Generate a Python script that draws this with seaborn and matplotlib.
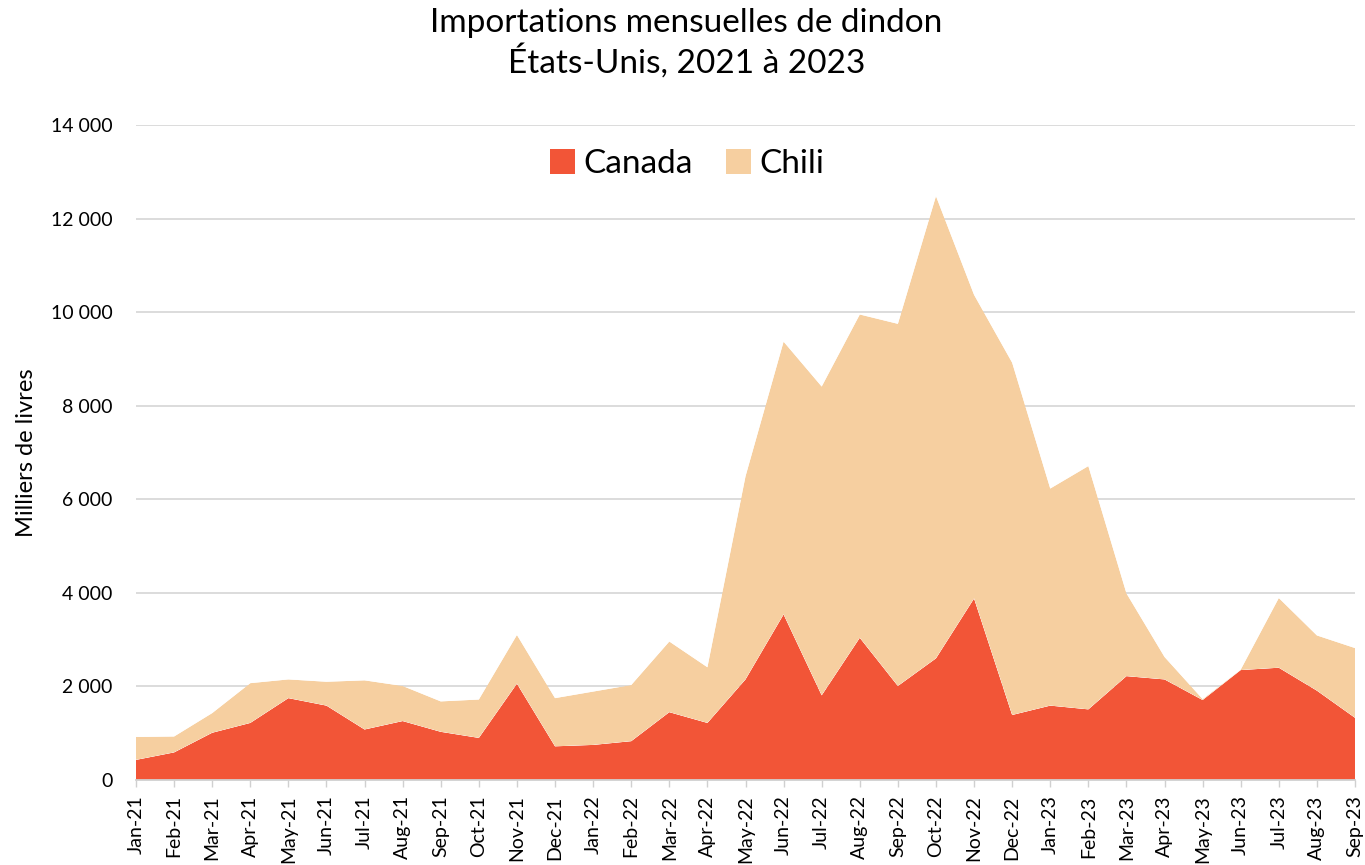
import numpy as np
import pandas as pd
import matplotlib
matplotlib.use("Agg")
import matplotlib.pyplot as plt
import seaborn as sns
import seaborn.objects as so
from matplotlib.patches import Patch

months = ["Jan-21", "Feb-21", "Mar-21", "Apr-21", "May-21", "Jun-21", "Jul-21", "Aug-21",
          "Sep-21", "Oct-21", "Nov-21", "Dec-21", "Jan-22", "Feb-22", "Mar-22", "Apr-22",
          "May-22", "Jun-22", "Jul-22", "Aug-22", "Sep-22", "Oct-22", "Nov-22", "Dec-22",
          "Jan-23", "Feb-23", "Mar-23", "Apr-23", "May-23", "Jun-23", "Jul-23", "Aug-23", "Sep-23"]

canada = [430, 590, 1010, 1220, 1750, 1590, 1080, 1260, 1030, 900, 2060, 720,
          750, 830, 1450, 1220, 2150, 3540, 1810, 3040, 2010, 2600, 3880, 1390,
          1590, 1510, 2220, 2150, 1710, 2350, 2400, 1910, 1330]

total = [920, 930, 1430, 2070, 2150, 2100, 2130, 2010, 1680, 1720, 3100, 1750,
         1890, 2030, 2960, 2410, 6490, 9370, 8410, 9950, 9750, 12480, 10370, 8920,
         6230, 6710, 3990, 2630, 1730, 2360, 3890, 3090, 2820]

chili = [t - c for t, c in zip(total, canada)]

series_names = ["Canada", "Chili"]
colors = {"Canada": "#F25537", "Chili": "#F6CFA0"}

df = pd.DataFrame({
    "idx": list(range(len(months))) * 2,
    "value": canada + chili,
    "country": ["Canada"] * len(months) + ["Chili"] * len(months),
})

sns.set_theme(style="white")
plt.rcParams['font.family'] = ['Lato', 'DejaVu Sans']
plt.rcParams['text.color'] = 'black'
plt.rcParams['axes.labelcolor'] = 'black'
plt.rcParams['xtick.color'] = 'black'
plt.rcParams['ytick.color'] = 'black'

fig = plt.figure(figsize=(13.65, 8.65), dpi=100)
ax = fig.add_axes([136 / 1365, 1 - 780 / 865, (1355 - 136) / 1365, (780 - 125) / 865])

(
    so.Plot(df, x="idx", y="value", color="country")
    .add(so.Area(alpha=1, edgewidth=0), so.Stack(), legend=False)
    .scale(color=colors)
    .on(ax)
    .plot()
)

ax.set_xlim(0, len(months) - 1)
ax.set_ylim(0, 14000)
ax.set_yticks(np.arange(0, 14001, 2000))
ax.set_yticklabels([f"{v:,}".replace(",", " ") for v in range(0, 14001, 2000)], fontsize=14)
ax.set_xticks(range(len(months)))
ax.set_xticklabels(months, rotation=90, fontsize=14)
ax.tick_params(axis="x", length=5, color="#D0D0D0", width=1, direction="out", pad=6,
               bottom=True, labelcolor="black")
ax.tick_params(axis="y", length=0, pad=17, labelcolor="black")
ax.grid(axis="y", color="#D9D9D9", linewidth=1.3)
ax.grid(axis="x", visible=False)
ax.set_axisbelow(True)
for s in ["top", "right", "left"]:
    ax.spines[s].set_visible(False)
ax.spines["bottom"].set_color("#D0D0D0")
ax.spines["bottom"].set_linewidth(1.3)
ax.spines["bottom"].set_zorder(5)

ax.set_xlabel("")
ax.set_ylabel("Milliers de livres", fontsize=17, labelpad=10, color="black")

handles = [Patch(facecolor=colors[n], edgecolor="none") for n in series_names]
ax.legend(handles, series_names, loc="center", bbox_to_anchor=(0.452, 0.94),
          ncol=2, frameon=False, fontsize=24, handlelength=0.75, handleheight=0.75,
          handletextpad=0.25, columnspacing=1.0, labelcolor="black")

fig.text(0.503, 27 / 865, "", ha="center")
fig.suptitle("Importations mensuelles de dindon\nÉtats-Unis, 2021 à 2023",
             fontsize=24, y=1 - 8 / 865, x=0.503, va="top", linespacing=1.2, color="black")

fig.savefig("out.png", dpi=100)
